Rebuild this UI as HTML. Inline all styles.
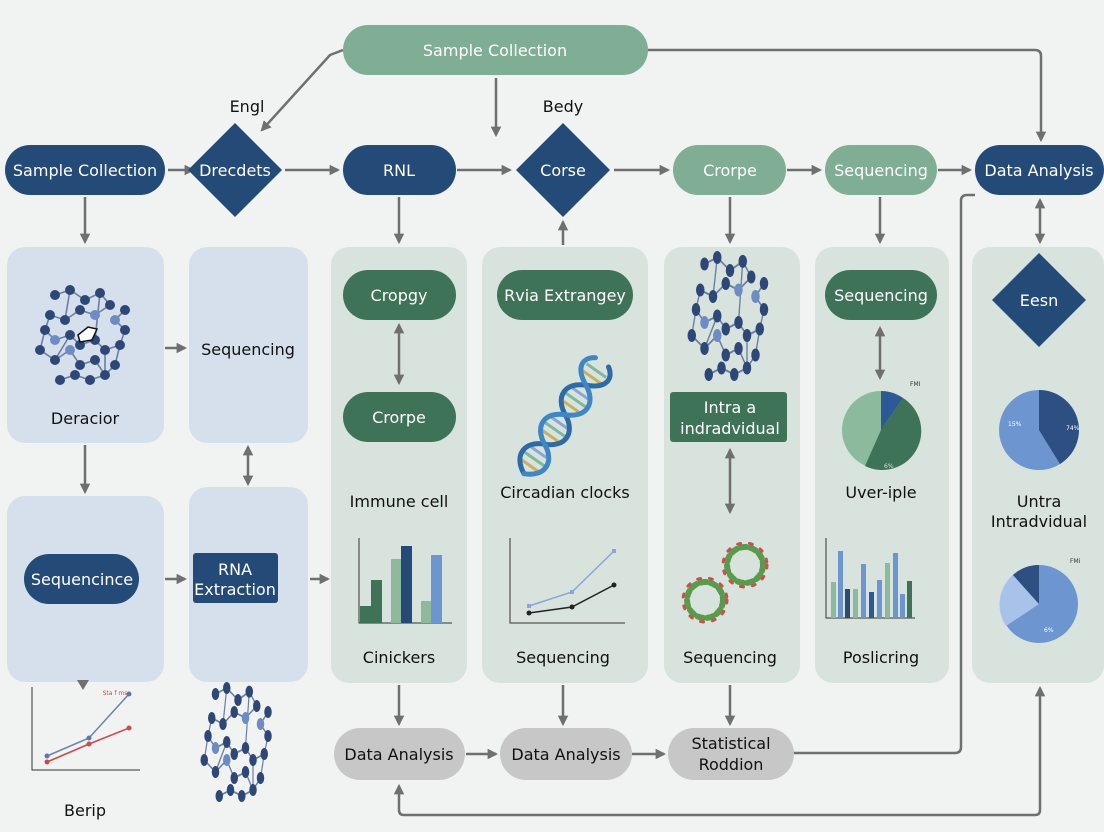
<!DOCTYPE html>
<html><head><meta charset="utf-8"><style>
html,body{margin:0;padding:0;background:#f1f2f2;}
svg{display:block;font-family:"DejaVu Sans","Liberation Sans",sans-serif;}
</style></head><body>
<svg width="1104" height="832" viewBox="0 0 1104 832" xmlns="http://www.w3.org/2000/svg">
<defs>
<marker id="a" viewBox="0 0 10 10" refX="8" refY="5" markerWidth="4.2" markerHeight="4.2" orient="auto-start-reverse"><path d="M0,0 L10,5 L0,10 z" fill="#6f6f6f"/></marker>
<g id="mol">
 <g stroke="#6a7fa6" stroke-width="1.6" fill="none">
  <path d="M-30,-40 L-15,-45 L0,-35 L15,-42 L25,-30 L10,-20 L-5,-25 L-20,-15 L-35,-20 L-40,-5 L-30,5 L-15,0 L-5,10 L10,5 L20,15 L35,10 L40,-5 L30,-15 L40,-25"/>
  <path d="M-40,-5 L-45,15 L-30,25 L-15,15 L-5,30 L10,25 L20,40 L5,45 L-10,40 L-25,45"/>
  <path d="M-15,-45 L-20,-15 M15,-42 L10,5 M-30,25 L-15,0 M20,15 L20,40 M35,10 L30,30 L20,40"/>
 </g>
 <g fill="#2d4777">
  <circle cx="-30" cy="-40" r="5"/><circle cx="-15" cy="-45" r="5"/><circle cx="0" cy="-35" r="5"/><circle cx="15" cy="-42" r="5"/><circle cx="25" cy="-30" r="5"/><circle cx="10" cy="-20" r="5" fill="#6d8cc4"/><circle cx="-5" cy="-25" r="5"/><circle cx="-20" cy="-15" r="5"/><circle cx="-35" cy="-20" r="5"/><circle cx="-40" cy="-5" r="5"/><circle cx="-30" cy="5" r="5" fill="#6d8cc4"/><circle cx="-15" cy="0" r="5"/><circle cx="-5" cy="10" r="5"/><circle cx="10" cy="5" r="5"/><circle cx="20" cy="15" r="5"/><circle cx="35" cy="10" r="5"/><circle cx="40" cy="-5" r="5"/><circle cx="30" cy="-15" r="5" fill="#6d8cc4"/><circle cx="40" cy="-25" r="5"/><circle cx="-45" cy="15" r="5"/><circle cx="-30" cy="25" r="5"/><circle cx="-15" cy="15" r="5" fill="#6d8cc4"/><circle cx="-5" cy="30" r="5"/><circle cx="10" cy="25" r="5"/><circle cx="20" cy="40" r="5"/><circle cx="5" cy="45" r="5"/><circle cx="-10" cy="40" r="5"/><circle cx="-25" cy="45" r="5"/><circle cx="30" cy="30" r="5"/>
 </g>
</g>
</defs>

<!-- panels -->
<rect x="7" y="247" width="157" height="196" rx="18" fill="#d6e0ec"/>
<rect x="189" y="247" width="119" height="196" rx="18" fill="#d6e0ec"/>
<rect x="7" y="496" width="157" height="186" rx="18" fill="#d6e0ec"/>
<rect x="189" y="487" width="119" height="195" rx="18" fill="#d6e0ec"/>
<rect x="331" y="247" width="136" height="436" rx="18" fill="#d8e3de"/>
<rect x="482" y="247" width="166" height="436" rx="18" fill="#d8e3de"/>
<rect x="664" y="247" width="136" height="436" rx="18" fill="#d8e3de"/>
<rect x="815" y="247" width="134" height="436" rx="18" fill="#d8e3de"/>
<rect x="972" y="247" width="132" height="436" rx="18" fill="#d8e3de"/>

<!-- connectors -->
<g stroke="#6f6f6f" stroke-width="2.5" fill="none">
 <path d="M343,50 L330,55 L262,130" marker-end="url(#a)"/>
 <path d="M496,78 L496,135" marker-end="url(#a)"/>
 <path d="M648,50 L1035,50 Q1041,50 1041,56 L1041,140" marker-end="url(#a)"/>
 <path d="M168,170 L193,170" marker-end="url(#a)"/>
 <path d="M285,170 L338,170" marker-end="url(#a)"/>
 <path d="M457,170 L510,170" marker-end="url(#a)"/>
 <path d="M614,170 L668,170" marker-end="url(#a)"/>
 <path d="M787,170 L820,170" marker-end="url(#a)"/>
 <path d="M938,170 L970,170" marker-end="url(#a)"/>
 <path d="M85,197 L85,242" marker-end="url(#a)"/>
 <path d="M399,197 L399,242" marker-end="url(#a)"/>
 <path d="M563,245 L563,222" marker-end="url(#a)"/>
 <path d="M730,197 L730,242" marker-end="url(#a)"/>
 <path d="M880,197 L880,242" marker-end="url(#a)"/>
 <path d="M1040,200 L1040,242" marker-start="url(#a)" marker-end="url(#a)"/>
 <path d="M165,348 L185,348" marker-end="url(#a)"/>
 <path d="M85,445 L85,492" marker-end="url(#a)"/>
 <path d="M248,447 L248,484" marker-start="url(#a)" marker-end="url(#a)"/>
 <path d="M165,579 L185,579" marker-end="url(#a)"/>
 <path d="M310,579 L328,579" marker-end="url(#a)"/>
 <path d="M399,325 L399,383" marker-start="url(#a)" marker-end="url(#a)"/>
 <path d="M730,450 L730,512" marker-start="url(#a)" marker-end="url(#a)"/>
 <path d="M880,328 L880,378" marker-start="url(#a)" marker-end="url(#a)"/>
 <path d="M399,685 L399,724" marker-end="url(#a)"/>
 <path d="M563,685 L563,724" marker-end="url(#a)"/>
 <path d="M730,685 L730,724" marker-end="url(#a)"/>
 <path d="M466,754 L496,754" marker-end="url(#a)"/>
 <path d="M632,754 L664,754" marker-end="url(#a)"/>
 <path d="M793,753 L955,753 Q961,753 961,747 L961,201 Q961,195 967,195 L975,195"/>
 <path d="M1040,688 L1040,810 Q1040,815 1035,815 L404,815 Q399,815 399,810 L399,786" marker-start="url(#a)" marker-end="url(#a)"/>
</g>

<!-- top nodes -->
<rect x="343" y="25" width="305" height="50" rx="25" fill="#7fae94"/>
<text x="495" y="56" font-size="16" fill="#fff" text-anchor="middle">Sample Collection</text>
<text x="247" y="112" font-size="16" fill="#111" text-anchor="middle">Engl</text>
<text x="563" y="112" font-size="16" fill="#111" text-anchor="middle">Bedy</text>

<g font-size="16" fill="#fff" text-anchor="middle">
<rect x="5" y="145" width="160" height="50" rx="25" fill="#244a78"/>
<text x="85" y="176">Sample Collection</text>
<path d="M235,123 L282,170 L235,217 L188,170 Z" fill="#244a78"/>
<text x="235" y="176">Drecdets</text>
<rect x="343" y="145" width="113" height="50" rx="25" fill="#244a78"/>
<text x="399" y="176">RNL</text>
<path d="M563,123 L610,170 L563,217 L516,170 Z" fill="#244a78"/>
<text x="563" y="176">Corse</text>
<rect x="673" y="145" width="113" height="50" rx="25" fill="#7fae94"/>
<text x="730" y="176">Crorpe</text>
<rect x="825" y="145" width="112" height="50" rx="25" fill="#7fae94"/>
<text x="881" y="176">Sequencing</text>
<rect x="975" y="145" width="129" height="50" rx="25" fill="#244a78"/>
<text x="1039" y="176">Data Analysis</text>
</g>

<!-- left panels content -->
<use href="#mol" transform="translate(85,335)"/>
<path d="M78,335 L88,327 L97,329 L92,340 L80,342 Z" fill="#fff" stroke="#111" stroke-width="1.5"/>
<text x="85" y="424" font-size="16" fill="#111" text-anchor="middle">Deracior</text>
<text x="248" y="355" font-size="16" fill="#111" text-anchor="middle">Sequencing</text>
<rect x="24" y="554" width="115" height="50" rx="25" fill="#244a78"/>
<text x="82" y="585" font-size="16" fill="#fff" text-anchor="middle">Sequencince</text>
<rect x="193" y="553" width="85" height="50" rx="3" fill="#244a78"/>
<text x="235" y="575" font-size="16" fill="#fff" text-anchor="middle">RNA</text>
<text x="235" y="595" font-size="16" fill="#fff" text-anchor="middle">Extraction</text>

<!-- bottom-left chart -->
<path d="M77,680 L89,680 L83,690 Z" fill="#6f6f6f"/>
<g stroke="#333" stroke-width="1" fill="none"><path d="M32,687 L32,770 L140,770"/></g>
<polyline points="47,756 89,738 129,694" fill="none" stroke="#6e84a8" stroke-width="1.5"/>
<polyline points="47,762 89,744 129,728" fill="none" stroke="#c94a4a" stroke-width="1.5"/>
<g fill="#5a78b0"><circle cx="47" cy="756" r="2.5"/><circle cx="89" cy="738" r="2.5"/><circle cx="129" cy="694" r="2.5"/></g>
<g fill="#c94a4a"><circle cx="47" cy="762" r="2.5"/><circle cx="89" cy="744" r="2.5"/><circle cx="129" cy="728" r="2.5"/></g>
<text x="115" y="695" font-size="6" fill="#c94a4a" text-anchor="middle">Sta f ms</text>
<text x="85" y="816" font-size="16" fill="#111" text-anchor="middle">Berip</text>
<use href="#mol" transform="translate(238,742) scale(0.75,1.2)"/>

<!-- panel 3 -->
<rect x="343" y="270" width="113" height="50" rx="25" fill="#3f7357"/>
<text x="399" y="301" font-size="16" fill="#fff" text-anchor="middle">Cropgy</text>
<rect x="343" y="392" width="113" height="50" rx="25" fill="#3f7357"/>
<text x="399" y="423" font-size="16" fill="#fff" text-anchor="middle">Crorpe</text>
<text x="399" y="507" font-size="16" fill="#111" text-anchor="middle">Immune cell</text>
<path d="M359,538 L359,623 L452,623" stroke="#333" stroke-width="1" fill="none"/>
<rect x="360" y="606" width="11" height="17" fill="#3f7357"/>
<rect x="371" y="580" width="11" height="43" fill="#3f7357"/>
<rect x="391" y="559" width="10" height="64" fill="#8fb89d"/>
<rect x="401" y="546" width="11" height="77" fill="#244a78"/>
<rect x="421" y="601" width="10" height="22" fill="#8fb89d"/>
<rect x="431" y="555" width="11" height="68" fill="#6d95d0"/>
<text x="399" y="663" font-size="16" fill="#111" text-anchor="middle">Cinickers</text>

<!-- panel 4 -->
<rect x="497" y="270" width="136" height="50" rx="25" fill="#3f7357"/>
<text x="565" y="301" font-size="16" fill="#fff" text-anchor="middle">Rvia Extrangey</text>
<g transform="translate(563,418) rotate(-55)">
 <g stroke-width="3">
  <line x1="-58" y1="-12" x2="-58" y2="12" stroke="#c8b060"/>
  <line x1="-50" y1="-13" x2="-50" y2="13" stroke="#7fb7a0"/>
  <line x1="-42" y1="-9" x2="-42" y2="9" stroke="#8aa6d6"/>
  <line x1="-22" y1="-10" x2="-22" y2="10" stroke="#c8b060"/>
  <line x1="-14" y1="-13" x2="-14" y2="13" stroke="#7fb7a0"/>
  <line x1="-6" y1="-11" x2="-6" y2="11" stroke="#8aa6d6"/>
  <line x1="14" y1="-9" x2="14" y2="9" stroke="#c8b060"/>
  <line x1="22" y1="-13" x2="22" y2="13" stroke="#7fb7a0"/>
  <line x1="30" y1="-12" x2="30" y2="12" stroke="#8aa6d6"/>
  <line x1="50" y1="-11" x2="50" y2="11" stroke="#c8b060"/>
  <line x1="58" y1="-12" x2="58" y2="12" stroke="#7fb7a0"/>
 </g>
 <g fill="none" stroke-width="5" stroke-linecap="round">
  <path d="M-68,0 C-59,-19 -41,-19 -32,0 C-23,19 -5,19 4,0 C13,-19 31,-19 40,0 C49,19 61,19 68,8" stroke="#2e6aa6"/>
  <path d="M-68,0 C-59,19 -41,19 -32,0 C-23,-19 -5,-19 4,0 C13,19 31,19 40,0 C49,-19 61,-19 68,-8" stroke="#3f86c4"/>
 </g>
</g>
<text x="565" y="498" font-size="16" fill="#111" text-anchor="middle">Circadian clocks</text>
<path d="M510,538 L510,623 L625,623" stroke="#333" stroke-width="1" fill="none"/>
<polyline points="529,606 572,592 614,551" fill="none" stroke="#8aa6d6" stroke-width="1.5"/>
<polyline points="529,613 572,607 614,585" fill="none" stroke="#222" stroke-width="1.5"/>
<g fill="#8aa6d6"><rect x="527" y="604" width="4" height="4"/><rect x="570" y="590" width="4" height="4"/><rect x="612" y="549" width="4" height="4"/></g>
<g fill="#222"><circle cx="529" cy="613" r="2.5"/><circle cx="572" cy="607" r="2.5"/><circle cx="614" cy="585" r="2.5"/></g>
<text x="563" y="663" font-size="16" fill="#111" text-anchor="middle">Sequencing</text>

<!-- panel 5 -->
<use href="#mol" transform="translate(730,316) scale(0.85,1.3)"/>
<rect x="670" y="392" width="117" height="50" rx="3" fill="#3f7357"/>
<text x="730" y="413" font-size="16" fill="#fff" text-anchor="middle">Intra a</text>
<text x="730" y="434" font-size="16" fill="#fff" text-anchor="middle">indradvidual</text>
<g stroke-width="6" fill="none" stroke-linecap="round">
<circle cx="745" cy="565" r="18" stroke="#5a9a4a" stroke-dasharray="6 4"/>
<circle cx="705" cy="600" r="18" stroke="#5a9a4a" stroke-dasharray="6 4"/>
<circle cx="745" cy="565" r="22" stroke="#c85050" stroke-width="3" stroke-dasharray="3 9"/>
<circle cx="705" cy="600" r="22" stroke="#c85050" stroke-width="3" stroke-dasharray="3 9"/>
</g>
<text x="730" y="663" font-size="16" fill="#111" text-anchor="middle">Sequencing</text>

<!-- panel 6 -->
<rect x="825" y="270" width="112" height="50" rx="25" fill="#3f7357"/>
<text x="881" y="301" font-size="16" fill="#fff" text-anchor="middle">Sequencing</text>
<circle cx="881" cy="430" r="39" fill="#8cba9c"/>
<path d="M881,430 L881,391 A39,39 0 0 1 903,398 Z" fill="#2d5a96"/>
<path d="M881,430 L903,398 A39,39 0 0 1 865,466 Z" fill="#3f7357"/>
<text x="910" y="386" font-size="6" fill="#333">FMI</text>
<text x="884" y="468" font-size="6" fill="#ddd">6%</text>
<text x="881" y="498" font-size="16" fill="#111" text-anchor="middle">Uver-iple</text>
<path d="M826,538 L826,618 L915,618" stroke="#333" stroke-width="1" fill="none"/>
<g>
<rect x="831" y="582" width="5" height="36" fill="#8cba9c"/><rect x="838" y="551" width="5" height="67" fill="#6d95d0"/><rect x="845" y="589" width="5" height="29" fill="#2e4a6e"/><rect x="853" y="589" width="5" height="29" fill="#8cba9c"/><rect x="861" y="564" width="5" height="54" fill="#6d95d0"/><rect x="869" y="592" width="5" height="26" fill="#2d5a96"/><rect x="877" y="580" width="5" height="38" fill="#6d95d0"/><rect x="885" y="563" width="5" height="55" fill="#8cba9c"/><rect x="893" y="553" width="5" height="65" fill="#6d95d0"/><rect x="900" y="594" width="5" height="24" fill="#6d95d0"/><rect x="907" y="581" width="5" height="37" fill="#3f7357"/>
</g>
<text x="881" y="663" font-size="16" fill="#111" text-anchor="middle">Poslicring</text>

<!-- panel 7 -->
<path d="M1039,253 L1086,300 L1039,347 L992,300 Z" fill="#244a78"/>
<text x="1039" y="306" font-size="16" fill="#fff" text-anchor="middle">Eesn</text>
<circle cx="1039" cy="430" r="40" fill="#6d95d0"/>
<path d="M1039,430 L1039,390 A40,40 0 0 1 1060,464 Z" fill="#2d4f82"/>
<text x="1008" y="426" font-size="6" fill="#fff">15%</text>
<text x="1066" y="430" font-size="6" fill="#fff">74%</text>
<text x="1039" y="507" font-size="16" fill="#111" text-anchor="middle">Untra</text>
<text x="1039" y="527" font-size="16" fill="#111" text-anchor="middle">Intradvidual</text>
<circle cx="1039" cy="604" r="39" fill="#6d95d0"/>
<path d="M1039,604 L1006,626 A39,39 0 0 1 1013,575 Z" fill="#a8c2ea"/>
<path d="M1039,604 L1013,575 A39,39 0 0 1 1039,565 Z" fill="#2d4f82"/>
<text x="1070" y="563" font-size="6" fill="#333">FMi</text>
<text x="1044" y="632" font-size="6" fill="#fff">6%</text>

<!-- bottom gray pills -->
<g font-size="16" fill="#111" text-anchor="middle">
<rect x="334" y="728" width="131" height="52" rx="26" fill="#c7c7c7"/>
<text x="399" y="760">Data Analysis</text>
<rect x="500" y="728" width="132" height="52" rx="26" fill="#c7c7c7"/>
<text x="566" y="760">Data Analysis</text>
<rect x="668" y="728" width="126" height="52" rx="26" fill="#c7c7c7"/>
<text x="731" y="749">Statistical</text>
<text x="731" y="770">Roddion</text>
</g>
</svg>
</body></html>
